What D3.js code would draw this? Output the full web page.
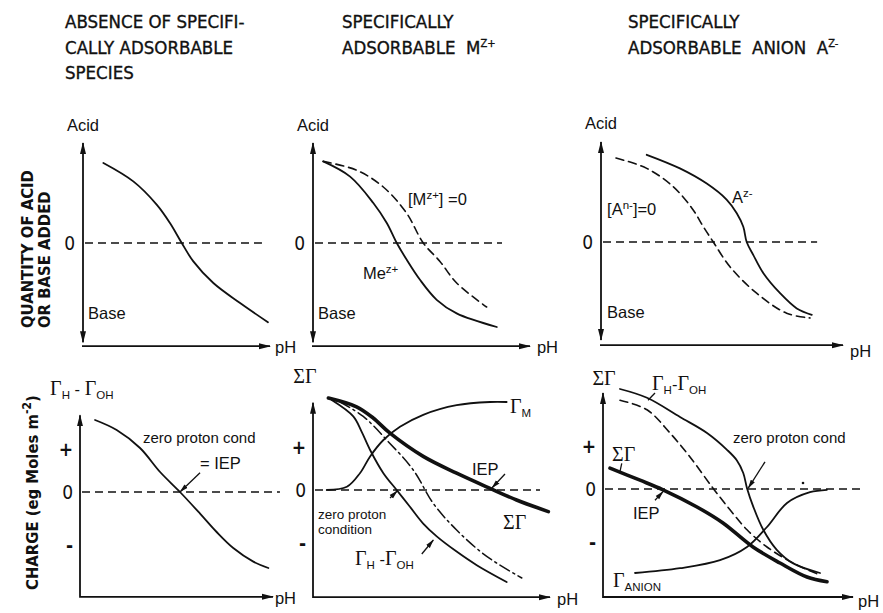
<!DOCTYPE html>
<html>
<head>
<meta charset="utf-8">
<script src="https://cdn.jsdelivr.net/npm/d3@7"></script>
<style>
  body { margin: 0; background: #fff; }
  svg { display: block; }
</style>
</head>
<body>
<svg id="fig" width="883" height="613"></svg>
<script>
// ---------- Column headings ----------
const headingNone   = ["ABSENCE OF SPECIFI-", "CALLY ADSORBABLE", "SPECIES"];
const headingCation = ["SPECIFICALLY", "ADSORBABLE  M^{Z+}"];
const headingAnion  = ["SPECIFICALLY", "ADSORBABLE  ANION  A^{Z-}"];

// ---------- Axis tick labels ----------
const titrationTickValues = [0];
const titrationTickLabels = ["0"];
const chargeTickValues = [0.53, 0, -0.67];
const chargeTickLabels = ["+", "0", "-"];

// ---------- Titration curves: [pH, acid(+)/base(-) added] ----------
const titrationNoSpecific = [[1.09,1.00],[2.69,0.77],[3.94,0.48],[4.65,0.25],[5.28,0.00],[5.90,-0.23],[6.97,-0.50],[8.40,-0.75],[9.89,-0.99]];
const titrationCation      = [[0.47,1.02],[1.71,0.83],[2.78,0.50],[3.40,0.25],[3.86,0.00],[4.32,-0.21],[4.93,-0.46],[5.70,-0.71],[6.62,-0.88],[8.47,-1.05]];
const titrationCationFree  = [[0.47,1.02],[2.01,0.91],[3.24,0.70],[4.32,0.37],[5.08,0.00],[5.85,-0.23],[6.62,-0.50],[8.00,-0.80]];
const titrationAnion       = [[1.89,1.09],[3.26,0.92],[4.37,0.73],[5.19,0.53],[5.61,0.36],[5.88,0.19],[6.02,0.00],[6.29,-0.16],[6.71,-0.39],[7.40,-0.64],[8.09,-0.83],[8.71,-0.91]];
const titrationAnionFree   = [[0.62,1.05],[1.89,0.92],[2.99,0.69],[3.81,0.40],[4.23,0.19],[4.64,0.00],[5.33,-0.31],[6.43,-0.64],[7.67,-0.89],[8.64,-0.95]];

// ---------- Surface charge curves: [pH, charge] ----------
const chargeNoSpecific     = [[0.78,0.90],[1.90,0.775],[3.11,0.55],[4.15,0.25],[5.18,0.00],[6.22,-0.27],[7.08,-0.50],[7.94,-0.70],[8.98,-0.87],[9.76,-0.95]];
const chargeCationTotal    = [[0.65,1.15],[1.84,1.04],[2.54,0.90],[3.25,0.71],[4.65,0.42],[6.06,0.21],[7.47,0.02],[8.59,-0.125],[9.93,-0.27]];
const chargeCationAdsorbed = [[0.58,0.00],[1.43,0.04],[1.98,0.21],[2.41,0.42],[2.97,0.625],[3.67,0.79],[4.65,0.94],[6.06,1.06],[7.47,1.10],[8.17,1.10]];
const chargeCationProton   = [[0.79,1.125],[1.70,0.92],[2.05,0.73],[2.41,0.50],[2.97,0.21],[3.53,0.00],[4.09,-0.21],[4.65,-0.42],[5.22,-0.58],[6.06,-0.77],[6.91,-0.94],[8.17,-1.15]];
const chargeCationZeroProt = [[1.14,1.10],[2.12,0.92],[3.11,0.625],[4.23,0.25],[5.08,-0.17],[6.06,-0.50],[7.33,-0.83],[8.81,-1.10]];
const chargeAnionProton    = [[0.68,1.25],[1.76,1.14],[3.08,0.90],[4.16,0.70],[4.96,0.49],[5.35,0.36],[5.61,0.20],[5.76,0.01],[6.01,-0.22],[6.41,-0.51],[6.95,-0.76],[7.61,-0.93],[8.68,-1.05]];
const chargeAnionProtonFree= [[0.68,1.11],[1.76,0.99],[2.68,0.70],[3.48,0.40],[4.40,0.01],[5.08,-0.26],[5.76,-0.51],[6.56,-0.725],[7.60,-0.925],[8.68,-1.075]];
const chargeAnionTotal     = [[0.28,0.26],[1.48,0.11],[2.40,-0.01],[3.76,-0.225],[4.80,-0.425],[6.00,-0.725],[7.08,-0.925],[8.16,-1.10],[8.96,-1.16]];
const chargeAnionAdsorbed  = [[1.28,-1.05],[3.08,-0.99],[4.68,-0.89],[5.76,-0.725],[6.56,-0.475],[7.36,-0.175],[8.28,-0.04],[8.96,-0.01]];

// ---------- Fonts and line styles ----------
const SANS  = "'Liberation Sans', Arial, sans-serif";
const COND  = "'DejaVu Sans Condensed', 'Liberation Sans Narrow', sans-serif";
const SERIF = "'Liberation Serif', 'DejaVu Serif', serif";
const INK = "#111";
const STYLE = {
  solid:   { w: 1.8, dash: null },
  dashed:  { w: 1.6, dash: "8,5" },
  thick:   { w: 3.6, dash: null },
  dashdot: { w: 1.5, dash: "11,4,2,4" }
};

// ---------- Panel layout ----------
const panels = [
  { row: "top", x0: 83,  x1: 270, zeroY: 243, yTop: 1.25, yBottom: -1.24, xAxisAt: -1.29, zeroEnd: 9.57,
    curves: [{ d: titrationNoSpecific, s: "solid" }],
    labels: [
      { t: "Acid", at: [0, 1.40], anchor: "middle" },
      { t: "Base", at: [0.27, -0.95] },
      { t: "pH",   at: [10.27, -1.375] }
    ], notes: [] },
  { row: "top", x0: 313, x1: 530, zeroY: 243, yTop: 1.25, yBottom: -1.24, xAxisAt: -1.29, zeroEnd: 8.71,
    curves: [{ d: titrationCationFree, s: "dashed" }, { d: titrationCation, s: "solid" }],
    labels: [
      { t: "Acid", at: [0, 1.40], anchor: "middle" },
      { t: "Base", at: [0.23, -0.95] },
      { t: "pH",   at: [10.32, -1.375] },
      { t: "[M^{z+}] =0", at: [4.38, 0.475] },
      { t: "Me^{z+}", at: [2.30, -0.45] }
    ], notes: [] },
  { row: "top", x0: 601, x1: 843, zeroY: 242, yTop: 1.25, yBottom: -1.225, xAxisAt: -1.29, zeroEnd: 8.93,
    curves: [{ d: titrationAnionFree, s: "dashed" }, { d: titrationAnion, s: "solid" }],
    labels: [
      { t: "Acid", at: [0, 1.41], anchor: "middle" },
      { t: "Base", at: [0.25, -0.95] },
      { t: "pH",   at: [10.29, -1.44] },
      { t: "[A^{n-}]=0", at: [0.25, 0.34] },
      { t: "A^{z-}", at: [5.41, 0.49] }
    ], notes: [] },
  { row: "bottom", x0: 80, x1: 273, zeroY: 492, yTop: 0.96, xAxisAt: -1.31, zeroEnd: 10.36,
    curves: [{ d: chargeNoSpecific, s: "solid" }],
    labels: [
      { t: "Γ_{H} - Γ_{OH}", at: [-1.55, 1.21] },
      { t: "zero proton cond", at: [3.26, 0.61], small: 15 },
      { t: "= IEP", at: [6.22, 0.29] },
      { t: "pH", at: [10.1, -1.40] }
    ],
    notes: [{ p: [[6.22, 0.24], [5.18, 0.0]], head: true }] },
  { row: "bottom", x0: 313, x1: 550, zeroY: 490, yTop: 1.09, xAxisAt: -1.34, zeroEnd: 9.58,
    curves: [
      { d: chargeCationZeroProt, s: "dashdot" },
      { d: chargeCationProton, s: "solid" },
      { d: chargeCationAdsorbed, s: "solid" },
      { d: chargeCationTotal, s: "thick" }
    ],
    labels: [
      { t: "ΣΓ", at: [-0.34, 1.34], anchor: "middle" },
      { t: "Γ_{M}", at: [8.31, 0.96] },
      { t: "IEP", at: [6.71, 0.19] },
      { t: "ΣΓ", at: [8.02, -0.49] },
      { t: "zero proton", at: [0.21, -0.36], small: 13.5 },
      { t: "condition", at: [0.21, -0.555], small: 13.5 },
      { t: "Γ_{H} -Γ_{OH}", at: [1.77, -0.94] },
      { t: "pH", at: [10.3, -1.44] }
    ],
    notes: [
      { p: [[8.10, 0.20], [7.55, 0.025]], head: true },
      { p: [[3.25, -0.10], [3.56, -0.01]], head: true },
      { p: [[4.59, -0.80], [5.08, -0.625]], head: true }
    ] },
  { row: "bottom", x0: 603, x1: 853, zeroY: 489, yTop: 1.2, xAxisAt: -1.35, zeroEnd: 10.4,
    curves: [
      { d: chargeAnionProtonFree, s: "dashed" },
      { d: chargeAnionProton, s: "solid" },
      { d: chargeAnionAdsorbed, s: "solid" },
      { d: chargeAnionTotal, s: "thick" }
    ],
    labels: [
      { t: "ΣΓ", at: [0.04, 1.30], anchor: "middle" },
      { t: "Γ_{H}-Γ_{OH}", at: [1.96, 1.24] },
      { t: "zero proton cond", at: [5.2, 0.575], small: 15 },
      { t: "ΣΓ", at: [0.36, 0.35] },
      { t: "IEP", at: [1.2, -0.375] },
      { t: "Γ_{ANION}", at: [0.4, -1.225] },
      { t: "pH", at: [10.2, -1.475] }
    ],
    notes: [
      { p: [[2.08, 1.20], [1.80, 1.11]], head: false },
      { p: [[6.48, 0.34], [5.81, 0.01]], head: true },
      { p: [[0.75, 0.32], [0.68, 0.22]], head: false },
      { p: [[2.08, -0.14], [2.41, -0.03]], head: true }
    ],
    dots: [[8.0, 0.075]] }
];

const svg = d3.select("#fig");
const defs = svg.append("defs");
defs.append("marker").attr("id", "axHead")
  .attr("viewBox", "0 0 12 8").attr("refX", 11).attr("refY", 4)
  .attr("markerWidth", 12).attr("markerHeight", 8)
  .attr("markerUnits", "userSpaceOnUse").attr("orient", "auto-start-reverse")
  .append("path").attr("d", "M0,1 L12,4 L0,7 Z").attr("fill", INK);
defs.append("marker").attr("id", "noteHead")
  .attr("viewBox", "0 0 9 6").attr("refX", 8.5).attr("refY", 3)
  .attr("markerWidth", 9).attr("markerHeight", 6)
  .attr("markerUnits", "userSpaceOnUse").attr("orient", "auto")
  .append("path").attr("d", "M0,0.6 L9,3 L0,5.4 Z").attr("fill", INK);

// Text with _{sub}, ^{sup}; Greek letters set in a serif face
function rich(text, str, o) {
  const parts = str.split(/(_\{[^}]*\}|\^\{[^}]*\})/).filter(s => s.length);
  let level = 0;
  parts.forEach(p => {
    let kind = 0, txt = p;
    if (p.startsWith("_{")) { kind = 1; txt = p.slice(2, -1); }
    else if (p.startsWith("^{")) { kind = -1; txt = p.slice(2, -1); }
    const runs = txt.split(/([ΓΣ]+)/).filter(s => s.length);
    runs.forEach((r, j) => {
      const ts = text.append("tspan").text(r);
      const target = kind === 1 ? o.sub : kind === -1 ? -o.sup : 0;
      if (j === 0 && target !== level) { ts.attr("dy", target - level); level = target; }
      if (kind) ts.attr("font-size", o.small);
      if (/[ΓΣ]/.test(r)) ts.attr("font-family", SERIF).attr("font-size", kind ? o.small : o.greek);
    });
  });
}

// ---------- Column headings ----------
[[headingNone, 65], [headingCation, 342], [headingAnion, 628]].forEach(([lines, x]) => {
  lines.forEach((ln, i) => {
    const t = svg.append("text")
      .attr("x", x).attr("y", 28 + i * 25.5)
      .attr("font-family", COND).attr("font-size", 18.5).attr("fill", INK)
      .attr("stroke", INK).attr("stroke-width", 0.35)
      .style("white-space", "pre");
    rich(t, ln, { sub: 4, sup: 7, small: 11 });
  });
});

// ---------- Rotated axis titles ----------
const yTitleTop = ["QUANTITY OF ACID", "OR BASE ADDED"];
yTitleTop.forEach((ln, i) => {
  svg.append("text")
    .attr("transform", `translate(${33 + i * 17},328) rotate(-90)`)
    .attr("font-family", COND).attr("font-weight", "bold")
    .attr("font-size", 16.5).attr("fill", INK).text(ln);
});
{
  const t = svg.append("text")
    .attr("transform", "translate(38,590) rotate(-90)")
    .attr("font-family", COND).attr("font-weight", "bold")
    .attr("font-size", 16.5).attr("fill", INK);
  rich(t, "CHARGE (eg Moles m^{-2})", { sub: 4, sup: 7, small: 12 });
}

// ---------- Panels ----------
panels.forEach(P => {
  const g = svg.append("g");
  const x = d3.scaleLinear().domain([0, 10]).range([P.x0, P.x1]);
  const y = d3.scaleLinear().domain([0, 1]).range([P.zeroY, P.zeroY - 80]);

  // axes
  if (P.row === "top") {
    g.append("line")
      .attr("x1", x(0)).attr("x2", x(0))
      .attr("y1", y(P.yBottom)).attr("y2", y(P.yTop))
      .attr("stroke", INK).attr("stroke-width", 1.8)
      .attr("marker-start", "url(#axHead)").attr("marker-end", "url(#axHead)");
    g.append("line")
      .attr("x1", x(0) - 1).attr("x2", x(10))
      .attr("y1", y(P.xAxisAt)).attr("y2", y(P.xAxisAt))
      .attr("stroke", INK).attr("stroke-width", 1.8)
      .attr("marker-end", "url(#axHead)");
  } else {
    g.append("path")
      .attr("d", `M${x(0)},${y(P.yTop)} L${x(0)},${y(P.xAxisAt)} L${x(10)},${y(P.xAxisAt)}`)
      .attr("fill", "none").attr("stroke", INK).attr("stroke-width", 1.8)
      .attr("marker-start", "url(#axHead)").attr("marker-end", "url(#axHead)");
  }

  // tick labels on the charge / quantity axis
  const top = P.row === "top";
  const ax = d3.axisLeft(y)
    .tickValues(top ? titrationTickValues : chargeTickValues)
    .tickFormat((d, i) => (top ? titrationTickLabels : chargeTickLabels)[i])
    .tickSize(0).tickPadding(top ? 8 : 7);
  const axG = g.append("g").attr("transform", `translate(${x(0)},0)`).call(ax);
  axG.select(".domain").remove();
  axG.selectAll("text")
    .attr("font-family", COND).attr("font-size", 19).attr("font-weight", d => d === 0 ? "normal" : "bold")
    .attr("fill", INK);

  // zero line
  g.append("line")
    .attr("x1", x(0) + 2).attr("x2", x(P.zeroEnd))
    .attr("y1", y(0)).attr("y2", y(0))
    .attr("stroke", INK).attr("stroke-width", 1.4).attr("stroke-dasharray", "8,5");

  // curves
  const line = d3.line().x(d => x(d[0])).y(d => y(d[1])).curve(d3.curveCatmullRom.alpha(0.5));
  P.curves.forEach(c => {
    const st = STYLE[c.s];
    g.append("path").attr("d", line(c.d))
      .attr("fill", "none").attr("stroke", INK)
      .attr("stroke-width", st.w).attr("stroke-linecap", "round")
      .attr("stroke-dasharray", st.dash);
  });

  // pointer lines
  P.notes.forEach(n => {
    g.append("line")
      .attr("x1", x(n.p[0][0])).attr("y1", y(n.p[0][1]))
      .attr("x2", x(n.p[1][0])).attr("y2", y(n.p[1][1]))
      .attr("stroke", INK).attr("stroke-width", 1.3)
      .attr("marker-end", n.head ? "url(#noteHead)" : null);
  });
  (P.dots || []).forEach(d => {
    g.append("circle").attr("cx", x(d[0])).attr("cy", y(d[1])).attr("r", 1.3).attr("fill", INK);
  });

  // labels
  P.labels.forEach(L => {
    const t = g.append("text")
      .attr("x", x(L.at[0])).attr("y", y(L.at[1]))
      .attr("text-anchor", L.anchor || "start")
      .attr("font-family", SANS).attr("font-size", L.small || 16.5)
      .attr("fill", INK);
    rich(t, L.t, { sub: 4, sup: 6, small: 11.5, greek: 20 });
  });
});
</script>
</body>
</html>
